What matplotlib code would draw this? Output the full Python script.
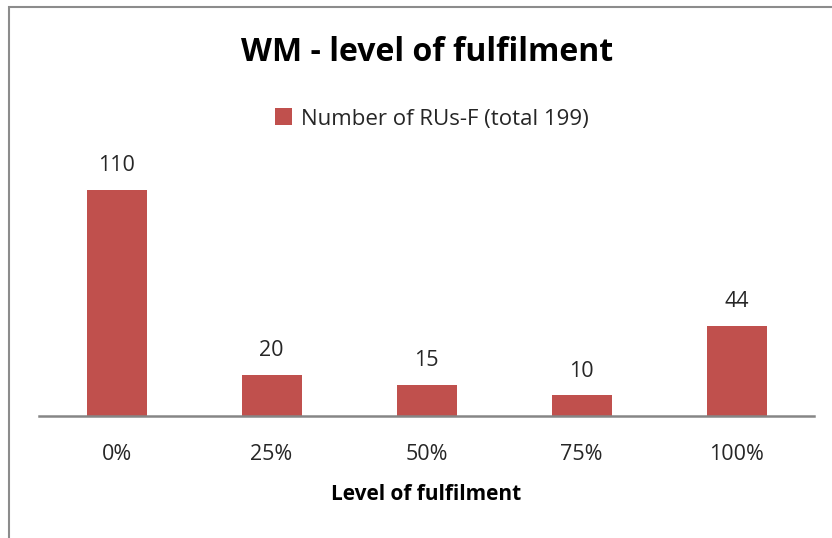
import matplotlib.pyplot as plt
from matplotlib.patches import Rectangle

# ---- data ----
levels = ['0%', '25%', '50%', '75%', '100%']
counts = [110, 20, 15, 10, 44]
series_name = 'Number of RUs-F (total 199)'

BAR_COLOR = '#C0504D'
TEXT_COLOR = '#262626'
AXIS_COLOR = '#868686'

plt.rcParams['font.family'] = ['Open Sans', 'DejaVu Sans']

fig = plt.figure(figsize=(8.32, 5.38), dpi=100)
ax = fig.add_axes([0.0469, 0.2268, 0.9315, 0.4584])

x = range(len(levels))
bars = ax.bar(x, counts, width=0.387, color=BAR_COLOR, label=series_name, zorder=2)

for xi, v in zip(x, counts):
    ax.annotate(str(v), (xi, v), xytext=(0, 10), textcoords='offset points',
                ha='center', va='bottom', fontsize=15.5, color=TEXT_COLOR)

ax.set_xlim(-0.5, len(levels) - 0.5)
ax.set_ylim(0, 120)
ax.set_xticks(list(x))
ax.set_xticklabels(levels, fontsize=15.5, color=TEXT_COLOR)
ax.tick_params(axis='x', length=0, pad=20)
ax.set_yticks([])
for side in ['left', 'right', 'top']:
    ax.spines[side].set_visible(False)
ax.spines['bottom'].set_color(AXIS_COLOR)
ax.spines['bottom'].set_linewidth(1.8)

ax.set_xlabel('Level of fulfilment', fontsize=15, fontweight='bold',
              color='black', labelpad=14)

fig.text(0.5135, 0.902, 'WM - level of fulfilment', ha='center', va='center',
         fontsize=23, fontweight='bold', color='black')

ax.legend(loc='center', bbox_to_anchor=(0.519, 0.779), bbox_transform=fig.transFigure,
          frameon=False, fontsize=16, handlelength=0.8, handleheight=0.8,
          handletextpad=0.4, labelcolor=TEXT_COLOR)

# chart area border
fig.patches.append(Rectangle((9 / 832, -0.01), 1.0, 1 - 7 / 538 + 0.01,
                             transform=fig.transFigure, fill=False,
                             edgecolor='#8C8C8C', linewidth=1.5))

fig.savefig('out.png', dpi=100)
